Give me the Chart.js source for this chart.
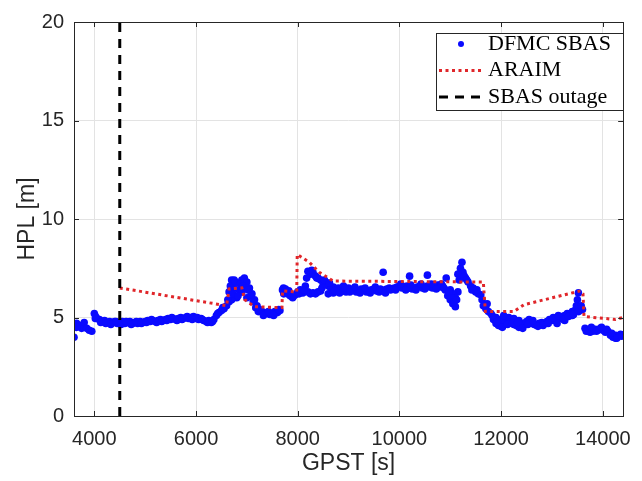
<!DOCTYPE html>
<html>
<head>
<meta charset="utf-8">
<script src="https://cdn.jsdelivr.net/npm/chart.js@4.4.1/dist/chart.umd.min.js"></script>
<style>
  body { margin: 0; background: #fff; }
  canvas { display: block; }
</style>
</head>
<body>
<canvas id="hplChart" width="642" height="481"></canvas>
<script>
// DFMC SBAS horizontal protection level
const dfmcGpst = [
  3600, 3650, 3700, 3750, 3800, 3850, 3900, 3950, 4000, 4050, 4100, 4150, 4200, 4250, 4300, 4350,
  4400, 4450, 4500, 4550, 4600, 4650, 4700, 4750, 4800, 4850, 4900, 4950, 5000, 5050, 5100, 5150,
  5200, 5250, 5300, 5350, 5400, 5450, 5500, 5550, 5600, 5650, 5700, 5750, 5800, 5850, 5900, 5950,
  6000, 6050, 6100, 6150, 6200, 6250, 6300, 6350, 6400, 6450, 6500, 6550, 6600, 6650, 6700, 6750,
  6800, 6850, 6900, 6950, 7000, 7050, 7100, 7150, 7200, 7250, 7300, 7350, 7400, 7450, 7500, 7550,
  7600, 7650, 7700, 7750, 7800, 7850, 7900, 7950, 8000, 8050, 8100, 8150, 8200, 8250, 8300, 8350,
  8400, 8450, 8500, 8550, 8600, 8650, 8700, 8750, 8800, 8850, 8900, 8950, 9000, 9050, 9100, 9150,
  9200, 9250, 9300, 9350, 9400, 9450, 9500, 9550, 9600, 9650, 9700, 9750, 9800, 9850, 9900, 9950,
  10000, 10050, 10100, 10150, 10200, 10250, 10300, 10350, 10400, 10450, 10500, 10550, 10600, 10650, 10700, 10750,
  10800, 10850, 10900, 10950, 11000, 11050, 11100, 11150, 11200, 11250, 11300, 11350, 11400, 11450, 11500, 11550,
  11600, 11650, 11700, 11750, 11800, 11850, 11900, 11950, 12000, 12050, 12100, 12150, 12200, 12250, 12300, 12350,
  12400, 12450, 12500, 12550, 12600, 12650, 12700, 12750, 12800, 12850, 12900, 12950, 13000, 13050, 13100, 13150,
  13200, 13250, 13300, 13350, 13400, 13450, 13500, 13520, 13600, 13650, 13700, 13750, 13800, 13850, 13900, 13950,
  14000, 14050, 14100, 14150, 14200, 14250, 14300, 14350, 14400,
  // second band / stray points
  3650, 4020, 6650, 6700, 6750, 6900, 7000, 7720, 7760, 8200, 8250, 8300, 8350, 8400, 8450, 8600,
  8700, 8800, 8900, 9680, 10200, 10550, 10920, 11000, 11050, 11100, 11230, 11150, 11900, 12000, 12050, 12250,
  12350, 13100, 13250, 13400, 13480, 13750, 14250
];
const dfmcHpl = [
  4.0, 4.7, 4.6, 4.45, 4.75, 4.45, 4.35, 4.3, 5.2, 4.95, 4.9, 4.8, 4.85, 4.75, 4.8, 4.75,
  4.8, 4.7, 4.75, 4.8, 4.7, 4.75, 4.8, 4.7, 4.75, 4.7, 4.8, 4.75, 4.8, 4.85, 4.8, 4.85,
  4.8, 4.85, 4.9, 4.85, 4.9, 4.95, 4.9, 4.95, 4.9, 4.95, 5.0, 4.95, 5.0, 4.95, 5.0, 5.05,
  4.95, 4.9, 4.95, 4.85, 4.8, 4.85, 4.75, 4.9, 5.1, 5.25, 5.35, 5.45, 5.6, 6.3, 6.9, 6.5,
  6.0, 6.4, 6.9, 7.0, 6.8, 6.5, 6.2, 5.9, 5.6, 5.4, 5.3, 5.2, 5.25, 5.15, 5.2, 5.3,
  5.25, 5.35, 6.4, 6.3, 6.2, 6.1, 6.0, 6.15, 6.3, 6.4, 6.25, 6.6, 7.35, 7.2, 7.3, 7.1,
  7.0, 6.9, 6.7, 6.8, 6.6, 6.5, 6.55, 6.4, 6.3, 6.45, 6.35, 6.3, 6.5, 6.4, 6.45, 6.3,
  6.35, 6.45, 6.4, 6.3, 6.35, 6.4, 6.45, 6.35, 6.3, 6.4, 6.35, 6.45, 6.5, 6.45, 6.5, 6.55,
  6.6, 6.5, 6.55, 6.6, 6.5, 6.45, 6.5, 6.55, 6.6, 6.5, 6.45, 6.6, 6.55, 6.5, 6.6, 6.65,
  6.55, 6.6, 6.4, 6.1, 5.9, 5.7, 5.55, 6.3, 7.5, 7.3, 7.0, 6.8, 6.6, 6.5, 6.3, 6.2,
  6.15, 5.6, 5.45, 5.3, 5.2, 4.9, 4.7, 4.6, 4.55, 4.7, 4.85, 5.0, 4.8, 4.65, 4.6, 4.5,
  4.55, 4.7, 4.8, 4.9, 4.75, 4.65, 4.6, 4.7, 4.75, 4.7, 4.8, 4.9, 4.85, 4.95, 5.0, 4.95,
  5.05, 5.1, 5.2, 5.15, 5.3, 5.35, 5.9, 6.25, 5.4, 4.45, 4.35, 4.4, 4.3, 4.4, 4.35, 4.45,
  4.35, 4.25, 4.3, 4.1, 4.0, 4.1, 4.05, 4.15, 4.1,
  4.5, 4.95, 5.8, 5.9, 6.9, 6.3, 6.0, 6.5, 6.45, 6.3, 6.2, 6.25, 6.2, 6.3, 6.35, 6.2,
  6.25, 6.5, 6.6, 7.3, 7.1, 7.15, 7.0, 6.4, 6.2, 6.0, 7.8, 7.2, 5.0, 4.9, 5.1, 4.95,
  4.85, 4.7, 4.85, 5.1, 5.6, 4.25, 3.95
];
// in-between samples that give the band its spread
const dfmcGpstB = [
  4025, 4125, 4225, 4325, 4425, 4525, 4625, 4725, 4825, 4925, 5025, 5125, 5225, 5325, 5425, 5525,
  5625, 5725, 5825, 5925, 6025, 6125, 6225, 6325, 6425, 6525, 6625, 6675, 6725, 6775, 6825, 6875,
  6925, 6975, 7025, 7075, 7125, 7175, 7225, 7325, 7425, 7525, 7625, 7725, 7825, 7925, 8025, 8125,
  8175, 8275, 8375, 8475, 8525, 8625, 8725, 8825, 8925, 9025, 9125, 9225, 9325, 9425, 9525, 9625,
  9725, 9825, 9925, 10025, 10125, 10225, 10325, 10425, 10525, 10625, 10725, 10825, 10875, 10975, 11025, 11075,
  11125, 11175, 11275, 11325, 11425, 11525, 11625, 11725, 11825, 11925, 12025, 12125, 12225, 12325, 12425, 12525,
  12625, 12725, 12825, 12925, 13025, 13125, 13225, 13325, 13425, 13525, 13575, 13675, 13775, 13875, 13975, 14075,
  14175, 14275, 14375
];
const dfmcHplB = [
  5.05, 4.75, 4.7, 4.65, 4.8, 4.65, 4.8, 4.65, 4.8, 4.7, 4.75, 4.9, 4.75, 4.8, 4.85, 5.0,
  4.85, 4.9, 5.05, 4.9, 5.0, 4.9, 4.75, 4.8, 5.2, 5.5, 5.9, 6.6, 6.2, 6.8, 6.1, 6.7,
  6.6, 6.5, 6.4, 6.1, 5.8, 5.5, 5.3, 5.1, 5.3, 5.1, 5.4, 6.2, 6.35, 6.1, 6.2, 6.4,
  7.0, 7.4, 7.0, 6.5, 6.9, 6.75, 6.35, 6.25, 6.5, 6.3, 6.55, 6.25, 6.5, 6.25, 6.55, 6.45,
  6.25, 6.4, 6.4, 6.7, 6.4, 6.65, 6.4, 6.7, 6.55, 6.7, 6.45, 6.7, 6.5, 6.3, 6.0, 5.8,
  5.9, 6.9, 7.1, 6.9, 6.4, 6.4, 5.9, 5.7, 5.1, 4.8, 4.5, 4.65, 4.7, 4.75, 4.45, 4.65,
  4.85, 4.55, 4.6, 4.7, 5.0, 5.1, 4.9, 5.05, 5.15, 5.3, 5.6, 4.3, 4.5, 4.3, 4.5, 4.4,
  4.2, 3.95, 4.05
];

// ARAIM protection level (dotted red)
const araimGpst = [4500, 6600, 6650, 6900, 6960, 7150, 7690, 7700, 7980, 7990, 8230, 8420, 8700,
  11650, 11690, 12250, 12450, 13560, 13610, 13630, 14250, 14400];
const araimHpl = [6.5, 5.6, 6.45, 6.5, 5.9, 5.55, 5.5, 6.35, 6.3, 8.2, 7.8, 7.3, 6.85,
  6.8, 5.3, 5.3, 5.65, 6.35, 6.2, 5.05, 4.9, 5.0];

// SBAS outage marker
const outageGpst = 4500;
const outageHpl = [0, 20];

const xTicks = [4000, 6000, 8000, 10000, 12000, 14000];
const yTicks = [0, 5, 10, 15, 20];

const legendItems = ["DFMC SBAS", "ARAIM", "SBAS outage"];

const axisColor = "#262626";
const blue = "#0a0aff";
const red = "#e0262a";

const toPoints = (xs, ys) => xs.map((x, i) => ({ x: x, y: ys[i] }));

const frameAndLegend = {
    id: "frameAndLegend",
    afterDatasetsDraw(chart) {
        const { ctx, chartArea: a, scales } = chart;
        ctx.save();
        // inner tick marks
        ctx.strokeStyle = axisColor;
        ctx.lineWidth = 1;
        ctx.beginPath();
        xTicks.forEach((v) => {
            const px = Math.round(scales.x.getPixelForValue(v)) + 0.5;
            ctx.moveTo(px, a.bottom);
            ctx.lineTo(px, a.bottom - 5);
            ctx.moveTo(px, a.top);
            ctx.lineTo(px, a.top + 5);
        });
        yTicks.forEach((v) => {
            const py = Math.round(scales.y.getPixelForValue(v)) + 0.5;
            ctx.moveTo(a.left, py);
            ctx.lineTo(a.left + 5, py);
            ctx.moveTo(a.right, py);
            ctx.lineTo(a.right - 5, py);
        });
        ctx.stroke();
        // box
        ctx.strokeRect(Math.round(a.left) + 0.5, Math.round(a.top) + 0.5,
            Math.round(a.right - a.left), Math.round(a.bottom - a.top));

        // legend
        const lx = 436, ly = 33, lw = 187, lh = 77;
        ctx.fillStyle = "#fff";
        ctx.fillRect(lx, ly, lw, lh);
        ctx.strokeRect(lx + 0.5, ly + 0.5, lw, lh);
        const rowY = [44, 70.5, 97];
        // DFMC dot
        ctx.fillStyle = blue;
        ctx.beginPath();
        ctx.arc(461, rowY[0], 3, 0, Math.PI * 2);
        ctx.fill();
        // ARAIM dotted sample
        ctx.strokeStyle = red;
        ctx.lineWidth = 3;
        ctx.setLineDash([3, 3.5]);
        ctx.beginPath();
        ctx.moveTo(439, rowY[1]);
        ctx.lineTo(483, rowY[1]);
        ctx.stroke();
        // outage dashed sample
        ctx.strokeStyle = "#000";
        ctx.lineWidth = 3;
        ctx.setLineDash([9, 7]);
        ctx.beginPath();
        ctx.moveTo(439, rowY[2]);
        ctx.lineTo(484, rowY[2]);
        ctx.stroke();
        ctx.setLineDash([]);
        ctx.fillStyle = "#000";
        ctx.font = "22px 'Liberation Serif', 'DejaVu Serif', serif";
        ctx.textBaseline = "middle";
        ctx.textAlign = "left";
        legendItems.forEach((t, i) => ctx.fillText(t, 488, rowY[i]));
        ctx.restore();
    },
};

new Chart(document.getElementById("hplChart"), {
    type: "scatter",
    data: {
        datasets: [
            {
                label: legendItems[2],
                type: "line",
                data: outageHpl.map((y) => ({ x: outageGpst, y: y })),
                borderColor: "#000",
                borderWidth: 3,
                borderDash: [9, 7],
                pointRadius: 0,
                fill: false,
                order: 0,
            },
            {
                label: legendItems[1],
                type: "line",
                data: toPoints(araimGpst, araimHpl),
                borderColor: red,
                borderWidth: 3,
                borderDash: [3, 3.5],
                borderCapStyle: "butt",
                pointRadius: 0,
                tension: 0,
                fill: false,
                order: 1,
            },
            {
                label: legendItems[0],
                data: toPoints(dfmcGpst, dfmcHpl).concat(toPoints(dfmcGpstB, dfmcHplB)),
                backgroundColor: blue,
                borderWidth: 0,
                pointRadius: 3.8,
                order: 2,
            },
        ],
    },
    options: {
        responsive: false,
        animation: false,
        layout: { padding: { top: 20, right: 10, left: 0, bottom: 0 } },
        plugins: {
            legend: { display: false },
            tooltip: { enabled: false },
        },
        scales: {
            x: {
                type: "linear",
                min: 3600,
                max: 14400,
                afterBuildTicks: (s) => { s.ticks = xTicks.map((v) => ({ value: v })); },
                afterFit: (s) => { s.height = 65; },
                grid: { color: "#e3e3e3", drawTicks: false },
                border: { display: false },
                ticks: {
                    padding: 11,
                    color: axisColor,
                    maxRotation: 0,
                    callback: (v) => String(v),
                    font: { family: "'Liberation Sans', Arial, sans-serif", size: 20 },
                },
                title: {
                    display: true,
                    text: "GPST [s]",
                    color: axisColor,
                    padding: { top: 0, bottom: 4 },
                    font: { family: "'Liberation Sans', Arial, sans-serif", size: 23 },
                },
            },
            y: {
                min: 0,
                max: 20,
                afterBuildTicks: (s) => { s.ticks = yTicks.map((v) => ({ value: v })); },
                afterFit: (s) => { s.width = 74; },
                grid: { color: "#e3e3e3", drawTicks: false },
                border: { display: false },
                ticks: {
                    padding: 10,
                    color: axisColor,
                    callback: (v) => String(v),
                    font: { family: "'Liberation Sans', Arial, sans-serif", size: 20 },
                },
                title: {
                    display: true,
                    text: "HPL [m]",
                    color: axisColor,
                    padding: { top: 14, bottom: 0 },
                    font: { family: "'Liberation Sans', Arial, sans-serif", size: 23 },
                },
            },
        },
    },
    plugins: [frameAndLegend],
});
</script>
</body>
</html>
